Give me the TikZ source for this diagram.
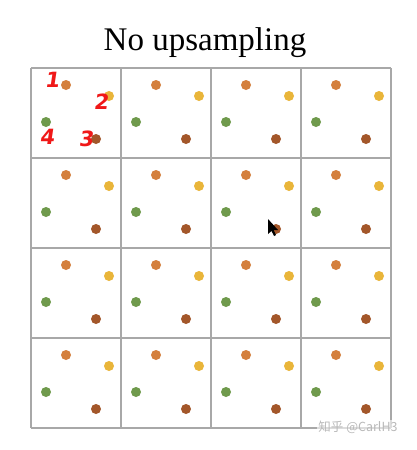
\documentclass[tikz,border=0pt]{standalone}
\usepackage{fontspec}
\setmainfont{Liberation Serif}
\newfontfamily\cjk{Noto Sans CJK SC}
\newfontfamily\handfont{DejaVu Sans}
\definecolor{dotorange}{HTML}{D4803E}
\definecolor{dotyellow}{HTML}{E9B53A}
\definecolor{dotgreen}{HTML}{6F9A4C}
\definecolor{dotbrown}{HTML}{A3572A}
\definecolor{gridgray}{HTML}{A8A8A8}
\definecolor{markred}{HTML}{F01818}
\begin{document}
\begin{tikzpicture}[x=1pt,y=-1pt,
  gridline/.style={draw=gridgray,line width=1.2pt},
  dotnode/.style={circle,inner sep=0pt,minimum size=10pt},
  redmark/.style={text=markred,font=\handfont\bfseries\fontsize{21}{21}\selectfont,inner sep=0pt,xslant=0.15},
  wm/.style={text=gray!55,font=\cjk\fontsize{12.5}{12.5}\selectfont,inner sep=0pt}]
\useasboundingbox[fill=white] (0,0) rectangle (416,450);
\node[font=\fontsize{33}{33}\selectfont,anchor=base,inner sep=0pt] (title) at (205,50) {No upsampling};
% grid
\foreach \i in {0,...,4}{
  \draw[gridline] (31+90*\i,68) -- (31+90*\i,428);
  \draw[gridline] (31,68+90*\i) -- (391,68+90*\i);
}
% dots
\foreach \r in {0,...,3}{
  \foreach \c in {0,...,3}{
    \node[dotnode,fill=dotorange] (o\r\c) at (31+90*\c+35,68+90*\r+17) {};
    \node[dotnode,fill=dotyellow] (y\r\c) at (31+90*\c+78,68+90*\r+28) {};
    \node[dotnode,fill=dotgreen]  (g\r\c) at (31+90*\c+15,68+90*\r+54) {};
    \node[dotnode,fill=dotbrown]  (b\r\c) at (31+90*\c+65,68+90*\r+71) {};
  }
}
% red annotations
\node[redmark] (m1) at (53,80) {1};
\node[redmark] (m2) at (102,102) {2};
\node[redmark] (m4) at (48,137) {4};
\node[redmark] (m3) at (87,139) {3};
% cursor
\fill[black] (268,219) -- (268,234) -- (271.5,231) -- (274,236) -- (276,235) -- (273.5,230) -- (278,230) -- cycle;
% watermark
\node[wm,fill=white,fill opacity=0.6,text opacity=1,inner sep=1pt] (wmk) at (358,427) {知乎 @CarlH3};
\end{tikzpicture}
\end{document}
